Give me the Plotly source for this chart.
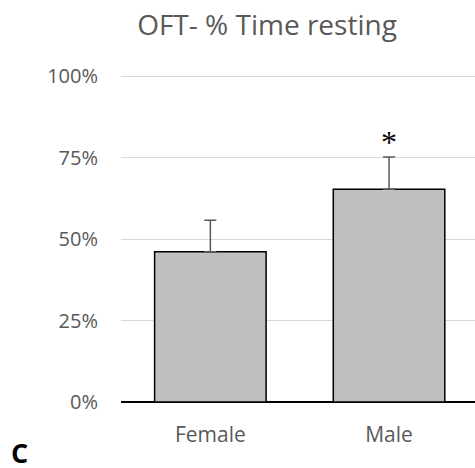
import plotly.graph_objects as go

categories = ["Female", "Male"]
means = [0.461, 0.653]
errors = [0.097, 0.099]
significance = ["", "*"]
y_tickvals = [0, 0.25, 0.5, 0.75, 1.0]
y_ticktext = ["0%", "25%", "50%", "75%", "100%"]

W, H = 475, 468
L, R, T, B = 121, 0, 73, 66

fig = go.Figure()
fig.add_trace(go.Bar(
    x=categories, y=means,
    marker=dict(color="#bfbfbf", line=dict(color="#000000", width=1.5)),
    error_y=dict(type="data", array=errors, symmetric=False, arrayminus=[0, 0],
                 color="#595959", thickness=1.5, width=6),
    width=0.624,
))

for c, m, e, s in zip(categories, means, errors, significance):
    if s:
        fig.add_annotation(x=c, y=m + e, text=s, showarrow=False, yanchor="bottom",
                           yshift=-5, font=dict(family="Liberation Serif", size=32, color="#000000"))

fig.add_annotation(xref="paper", yref="paper", x=-0.287, y=-0.155, text="<b>C</b>",
                   showarrow=False, xanchor="center", yanchor="middle",
                   font=dict(family="Open Sans", size=27, color="#000000"))

fig.update_layout(
    width=W, height=H,
    margin=dict(l=L, r=R, t=T, b=B, autoexpand=False),
    paper_bgcolor="white", plot_bgcolor="white",
    showlegend=False,
    title=dict(text="OFT- % Time resting", x=267 / W, xanchor="center",
               y=1 - 25 / H, yanchor="middle", yref="container",
               font=dict(family="Open Sans", size=28, color="#595959")),
    font=dict(family="Open Sans", color="#595959"),
)
fig.update_xaxes(range=[-0.5, 1.481], showgrid=False, showline=False, zeroline=False,
                 automargin=False,
                 tickfont=dict(size=21, color="#595959"), ticks="outside", ticklen=14,
                 tickcolor="rgba(0,0,0,0)")
fig.update_yaxes(range=[0, 1.01], tickvals=y_tickvals, ticktext=y_ticktext,
                 automargin=False,
                 showgrid=True, gridcolor="#d9d9d9", gridwidth=1,
                 zeroline=True, zerolinecolor="#000000", zerolinewidth=1.5,
                 showline=False, tickfont=dict(size=20, color="#595959"),
                 ticklabelstandoff=22)

fig.write_html("out.html", config={"displayModeBar": False},
               post_script="document.body.style.margin='0';document.body.style.overflow='hidden';")
